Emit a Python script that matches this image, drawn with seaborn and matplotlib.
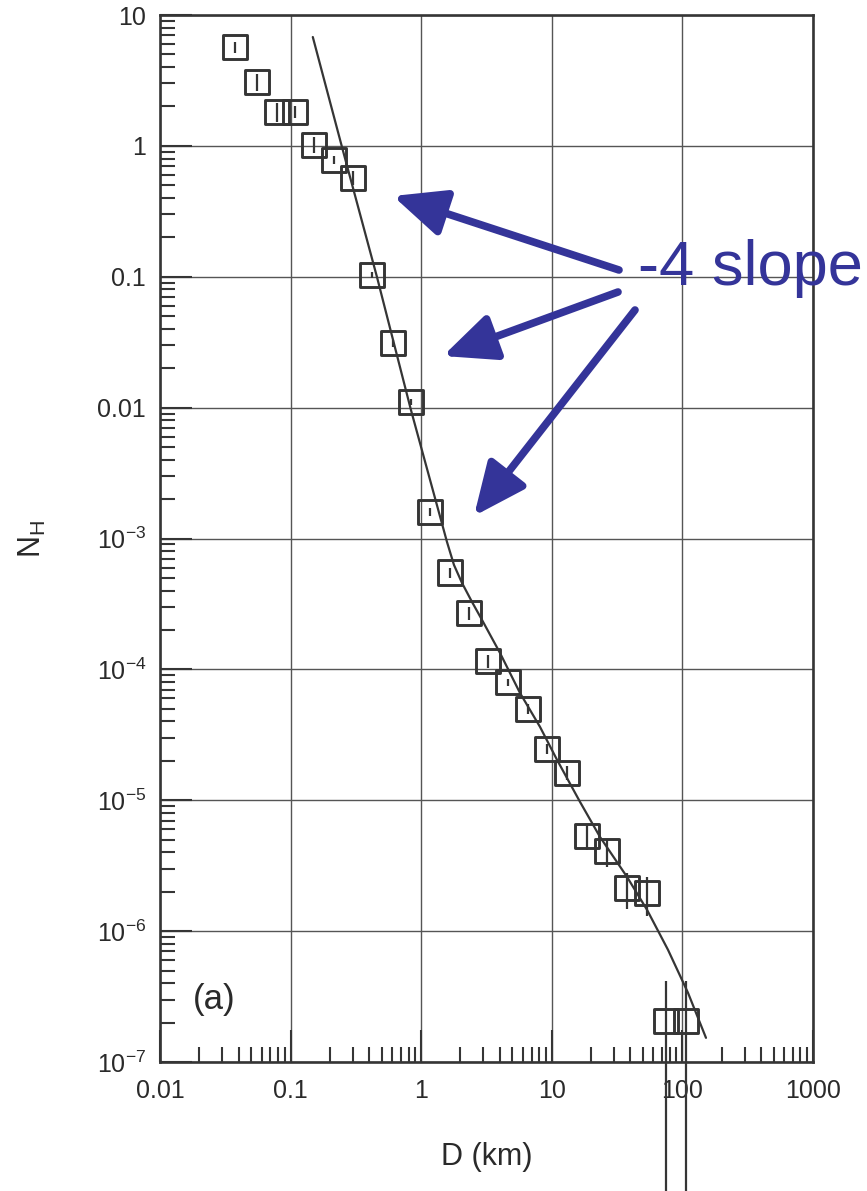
import numpy as np
import matplotlib
matplotlib.use("Agg")
import matplotlib.pyplot as plt
from matplotlib.ticker import FixedLocator, FixedFormatter, LogLocator, NullFormatter
import seaborn as sns

# Cumulative crater density N_H versus crater diameter D (km)
D = [0.0375, 0.0553, 0.0787, 0.108, 0.151, 0.215, 0.300, 0.42, 0.61, 0.835,
     1.17, 1.66, 2.32, 3.24, 4.62, 6.58, 9.2, 13.1, 18.6, 26.5, 37.7, 53.6,
     74.8, 106.6]
N_H = [5.7, 3.08, 1.82, 1.82, 1.02, 0.78, 0.57, 0.103, 0.031, 0.011,
       1.6e-3, 5.5e-4, 2.7e-4, 1.16e-4, 8.0e-5, 5.0e-5, 2.47e-5, 1.62e-5,
       5.35e-6, 4.1e-6, 2.14e-6, 1.96e-6, 2.07e-7, 2.07e-7]
# relative one-sigma uncertainty of each density
rel_err = [0.10, 0.14, 0.17, 0.11, 0.14, 0.07, 0.12, 0.055, 0.055, 0.055,
           0.07, 0.09, 0.11, 0.11, 0.06, 0.09, 0.09, 0.12, 0.22, 0.24,
           0.31, 0.33, 1.0, 1.0]

# model production function
D_fit = [0.148, 0.2475, 0.4586, 0.835, 1.418, 1.576, 1.783, 2.053, 2.449,
         2.921, 4.012, 5.707, 8.122, 10.96, 16.44, 23.39, 37.65, 53.6, 77.6,
         110.4, 151.6]
N_fit = [6.79, 0.981, 0.0997, 9.6e-3, 1.387e-3, 9.42e-4, 6.28e-4, 4.58e-4,
         3.28e-4, 2.39e-4, 1.336e-4, 6.61e-5, 3.64e-5, 2.04e-5, 9.73e-6,
         5.25e-6, 2.6e-6, 1.456e-6, 7.2e-7, 3.38e-7, 1.53e-7]

x_ticks = [0.01, 0.1, 1, 10, 100, 1000]
x_labels = ["0.01", "0.1", "1", "10", "100", "1000"]
y_ticks = [10, 1, 0.1, 0.01, 1e-3, 1e-4, 1e-5, 1e-6, 1e-7]
y_labels = ["10", "1", "0.1", "0.01", r"$\mathdefault{10^{-3}}$",
            r"$\mathdefault{10^{-4}}$", r"$\mathdefault{10^{-5}}$",
            r"$\mathdefault{10^{-6}}$", r"$\mathdefault{10^{-7}}$"]

INK = "#353535"
BLUE = "#343499"

sns.set_style("ticks")
plt.rcParams["font.family"] = ["Liberation Sans", "DejaVu Sans"]
plt.rcParams["mathtext.fontset"] = "custom"
plt.rcParams["mathtext.rm"] = "Liberation Sans"
plt.rcParams["mathtext.it"] = "Liberation Sans"

fig = plt.figure(figsize=(8.67, 11.91), dpi=100)
fig.patch.set_facecolor("white")
ax = fig.add_axes([0.1845, 0.1083, 0.7532, 0.8791])

sns.lineplot(x=D_fit, y=N_fit, sort=False, color=INK, lw=1.6, ax=ax, zorder=3)
sns.scatterplot(x=D, y=N_H, marker="s", s=305, facecolor="none",
                edgecolor=INK, linewidth=2.1, ax=ax, zorder=4)

ax.set_xscale("log")
ax.set_yscale("log")
ax.set_xlim(0.01, 1000)
ax.set_ylim(1e-7, 10)

# error bars; single-crater bins have a lower bound of zero
N_arr = np.array(N_H)
f_arr = np.array(rel_err)
lo = np.where(f_arr >= 1.0, 1e-12, N_arr * (1 - f_arr))
hi = N_arr * (1 + f_arr)
ax.vlines(D, lo, hi, color=INK, lw=1.6, zorder=4, clip_on=False)

ax.xaxis.set_major_locator(FixedLocator(x_ticks))
ax.xaxis.set_major_formatter(FixedFormatter(x_labels))
ax.yaxis.set_major_locator(FixedLocator(y_ticks))
ax.yaxis.set_major_formatter(FixedFormatter(y_labels))
ax.xaxis.set_minor_locator(LogLocator(base=10, subs=np.arange(2, 10), numticks=30))
ax.yaxis.set_minor_locator(LogLocator(base=10, subs=np.arange(2, 10), numticks=30))
ax.xaxis.set_minor_formatter(NullFormatter())
ax.yaxis.set_minor_formatter(NullFormatter())

ax.tick_params(which="major", direction="in", length=23, width=1.5,
               color=INK, labelsize=18, labelcolor="#2a2a2a",
               top=False, right=False)
ax.tick_params(axis="x", which="major", pad=12)
ax.tick_params(axis="y", which="major", pad=10)
ax.tick_params(which="minor", direction="in", length=11, width=1.5,
               color=INK, top=False, right=False)

ax.grid(which="major", color="#555555", lw=1.0)
for side in ax.spines.values():
    side.set_linewidth(1.9)
    side.set_color(INK)

ax.set_xlabel("D (km)", fontsize=22, color="#2a2a2a")
ax.set_ylabel(r"$\mathdefault{N_H}$", fontsize=22, color="#2a2a2a")
ax.xaxis.set_label_coords(0.5, -0.076)
ax.yaxis.set_label_coords(-0.172, 0.5)

ax.text(0.05, 0.06, "(a)", transform=ax.transAxes, fontsize=25,
        color="#2a2a2a", ha="left", va="center")

# annotation: three arrows pointing to the steep branch
W, H = 867.0, 1191.0
arrows = [((619, 270), (393, 196)),
          ((618, 292), (443, 356)),
          ((635, 310), (474, 516))]
for (tx, ty), (hx, hy) in arrows:
    ax.annotate("", xy=(hx / W, 1 - hy / H), xycoords="figure fraction",
                xytext=(tx / W, 1 - ty / H), textcoords="figure fraction",
                arrowprops=dict(arrowstyle="-|>,head_length=1.45,head_width=0.65",
                                mutation_scale=22, lw=5.5, color=BLUE,
                                shrinkA=0, shrinkB=0),
                annotation_clip=False, zorder=6)
fig.text(638 / W, 1 - 285 / H, "-4 slope", fontsize=45.5, color=BLUE,
         ha="left", va="baseline")

fig.savefig("out.png", dpi=100)
